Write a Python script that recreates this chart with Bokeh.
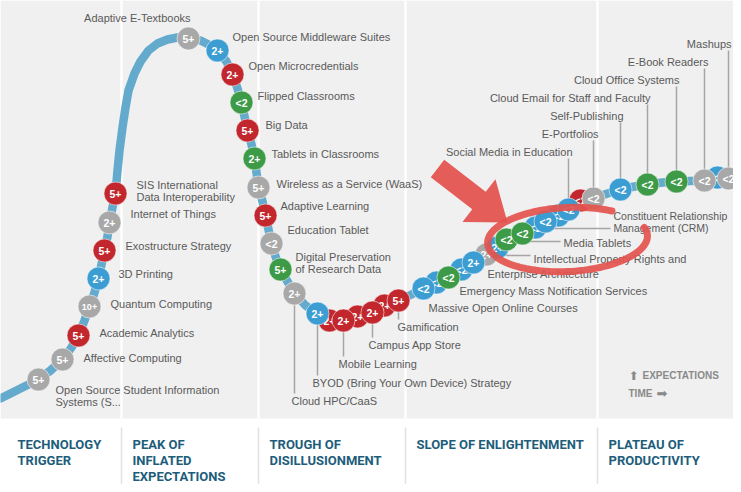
import numpy as np
from bokeh.plotting import figure
from bokeh.models import Range1d
from bokeh.core.properties import value
from bokeh.embed import file_html
from bokeh.resources import INLINE

# ---------------- data (time position, expectation level) -------------
curve_t = [0, 20, 38, 50, 62, 71, 78, 84, 89, 94, 98, 101, 104, 107, 109, 112, 115, 117, 119, 122,
           125, 128, 134, 140, 148, 157, 167, 177, 188, 200, 210, 217, 226, 232, 237, 241, 244, 247,
           251, 254, 256, 258, 262, 265, 268, 271, 275, 280, 287, 294, 305, 317, 329, 343, 357, 372,
           385, 398, 411, 423, 436, 448, 461, 473, 486, 497, 506, 522, 535, 545, 558, 568, 580, 593,
           607, 620, 634, 647, 662, 676, 690, 704, 719, 733, 745]
curve_e = [398, 388, 379, 370, 359, 347, 335, 320, 306, 292, 278, 264, 250, 236, 222, 207, 193, 170,
           150, 127, 107, 90, 73, 61, 50, 43, 39, 37, 37, 40, 45, 50, 61, 74, 88, 102, 116, 130,
           144, 158, 172, 187, 201, 215, 229, 243, 256, 269, 281, 293, 305, 313, 318, 319, 316, 311,
           305, 300, 294, 288, 282, 277, 269, 262, 254, 247, 240, 233, 227, 221, 215, 210, 203, 198,
           193, 189, 186, 184, 182, 181, 180.5, 180, 179, 178, 177]

tech_names = [
    "Open Source Student Information\nSystems (S...", "Affective Computing", "Academic Analytics",
    "Quantum Computing", "3D Printing", "Exostructure Strategy", "Internet of Things",
    "SIS International\nData Interoperability",
    "Adaptive E-Textbooks", "Open Source Middleware Suites", "Open Microcredentials",
    "Flipped Classrooms", "Big Data", "Tablets in Classrooms", "Wireless as a Service (WaaS)",
    "Adaptive Learning", "Education Tablet", "Digital Preservation\nof Research Data",
    "Cloud HPC/CaaS", "", "BYOD (Bring Your Own Device) Strategy", "", "Mobile Learning", "",
    "Campus App Store", "Gamification",
    "", "Massive Open Online Courses", "", "Emergency Mass Notification Services", "",
    "Enterprise Architecture", "", "Intellectual Property Rights and", "", "Media Tablets", "",
    "Constituent Relationship\nManagement (CRM)", "", "Social Media in Education", "E-Portfolios",
    "Self-Publishing", "Cloud Email for Staff and Faculty", "Cloud Office Systems", "",
    "E-Book Readers", "Mashups",
]
tech_t = [38, 62, 78, 89, 98, 104, 109, 115,
          188, 217, 232, 241, 247, 254, 258,
          265, 271, 280, 294, 329, 317, 357, 343, 384, 372, 398,
          436, 423, 461, 448, 486, 473, 497, 506, 535, 522, 558, 545, 580, 568, 593,
          620, 647, 676, 717, 704, 728]
tech_e = [379, 359, 335, 306, 278, 250, 222, 193,
          38, 50, 74, 102, 130, 158, 187,
          215, 243, 269, 293, 320, 313, 316, 320, 305, 312, 300,
          282, 288, 269, 277, 254, 262, 247, 239, 227, 233, 215, 221, 200, 209, 198,
          189, 184, 181, 177, 180, 178]
years = ["5+", "5+", "5+", "10+", "2+", "5+", "2+", "5+",
         "5+", "2+", "2+", "<2", "5+", "2+", "5+",
         "5+", "<2", "5+", "2+", "2+", "2+", "2+", "2+", "2+", "2+", "5+",
         "<2", "<2", "<2", "<2", "2+", "2+", "2+", "<2", "<2", "<2", "<2", "<2", "<2", "<2", "<2",
         "<2", "<2", "<2", "<2", "<2", "<2"]
benefit = ["low", "low", "transformational", "low", "high", "transformational", "low", "transformational",
           "low", "high", "transformational", "moderate", "transformational", "moderate", "low",
           "transformational", "low", "moderate", "low", "transformational", "high", "transformational",
           "transformational", "transformational", "transformational", "transformational",
           "high", "high", "high", "moderate", "low", "high", "high", "moderate", "high", "moderate",
           "high", "high", "transformational", "high", "low",
           "high", "moderate", "moderate", "high", "low", "low"]

phases = ["TECHNOLOGY\nTRIGGER", "PEAK OF\nINFLATED\nEXPECTATIONS", "TROUGH OF\nDISILLUSIONMENT",
          "SLOPE OF ENLIGHTENMENT", "PLATEAU OF\nPRODUCTIVITY"]
phase_start = [6, 121, 258, 405, 597]

# ---------------- layout (label placement relative to each bubble) ----------------
lab_dx = [17, 21, 21, 21, 20, 21, 21, 21,
          2, 15, 16, 16, 18, 17, 18,
          15, 16, 15, -3, 0, -5, 0, -5, 0, -4, -1,
          0, 5, 0, 11, 0, 14, 0, 27, 0, 41, 0, 68, 0, 4, 5,
          3, 3, 3, 0, 4, 3]
lab_dy = [16.5, -2, -3, -3, -5, -5, -9, -2.5,
          -21, -14, -9, -7, -6, -5, -4,
          -10, -14, -6.5, 107, 0, 69, 0, 43, 0, 32, 26,
          0, 19, 0, 13, 0, 11, 0, 19, 0, 9, 0, 0, 0, -58, -65,
          -74, -87, -102, 0, -119, -135]
lab_size = {37: "10.5px"}
lab_right = {8, 39, 40, 41, 42, 43, 45, 46}
leader = {18: "down", 20: "down", 22: "down", 24: "down", 25: "down",
          33: "elbow", 35: "elbow", 37: "elbow",
          39: "up", 40: "up", 41: "up", 42: "up", 43: "up", 45: "up", 46: "up"}
lead_off = {33: -3, 35: -1, 37: 7}

colors = {"transformational": "#c1272d", "high": "#3c9dd2", "moderate": "#3d9b48", "low": "#a8a8a8"}
FONT = value("Liberation Sans")

W, H = 733, 484
p = figure(width=W, height=H, x_range=Range1d(0, W), y_range=Range1d(H, 0),
           output_backend="svg", toolbar_location=None, min_border=0)
p.axis.visible = False
p.grid.visible = False
p.outline_line_color = None
p.background_fill_color = "white"
p.border_fill_color = "white"

# background panels
p.quad(left=[0], right=[745], top=[0], bottom=[418], fill_color="#f0f0f0", line_color=None)
p.segment(x0=phase_start[1:], y0=[0] * 4, x1=phase_start[1:], y1=[418] * 4,
          line_color="white", line_width=2.5)
p.segment(x0=phase_start[1:], y0=[427] * 4, x1=phase_start[1:], y1=[492] * 4,
          line_color="#e2e2e2", line_width=1.5)

# hype curve
p.line(curve_t, curve_e, line_color="#64aacc", line_width=8.5, line_join="round", line_cap="round")

bx = np.array(tech_t, float)
by = np.array(tech_e, float)
lx = bx + np.array(lab_dx, float)
ly = by + np.array(lab_dy, float)
n = len(tech_names)

# leader lines
lxs, lys = [], []
for i, kind in leader.items():
    if kind == "down":
        lxs.append([bx[i], bx[i]]); lys.append([by[i], ly[i] - 7])
    elif kind == "up":
        lxs.append([bx[i], bx[i]]); lys.append([ly[i] + 7, by[i]])
    else:
        yy = ly[i] + lead_off[i]
        lxs.append([bx[i], bx[i], lx[i] - 3]); lys.append([by[i], yy, yy])
p.multi_line(lxs, lys, line_color="#a5a5a5", line_width=1.5)

# bubbles: unnamed (hidden) first, then named ones on top
back = [i for i in range(n) if tech_names[i] == ""]
front = [i for i in range(n) if tech_names[i] != ""]
for grp in (back, front):
    xs = [bx[i] for i in grp]
    ys = [by[i] for i in grp]
    p.circle(xs, ys, radius=11.5, fill_color=[colors[benefit[i]] for i in grp],
             line_color="white", line_alpha=0.55, line_width=1)
    p.text(xs, [y + 0.5 for y in ys], text=[years[i] for i in grp],
           text_font=FONT, text_font_style="bold",
           text_font_size=["9px" if len(years[i]) > 2 else "10.5px" for i in grp],
           text_color="white", text_align="center", text_baseline="middle")

# technology labels
left_i = [i for i in front if i not in lab_right]
right_i = [i for i in front if i in lab_right]
for grp, al in ((left_i, "left"), (right_i, "right")):
    p.text([lx[i] for i in grp], [ly[i] for i in grp], text=[tech_names[i] for i in grp],
           text_font=FONT, text_font_size=[lab_size.get(i, "11px") for i in grp],
           text_color="#5a5a5a", text_align=al, text_baseline="middle", text_line_height=1.0)

# phase headers
p.text([s + 11 for s in phase_start], [436] * len(phases), text=phases,
       text_font=value("Roboto"), text_font_style="bold", text_font_size="13px",
       text_color="#1d5d7b", text_align="left", text_baseline="top", text_line_height=1.07)

# axis legend
p.text([633], [375], text=["⬆"], text_font=value("DejaVu Sans"), text_font_size="12px",
       text_color="#8a8a8a", text_align="center", text_baseline="middle")
p.text([642, 628], [375, 393], text=["EXPECTATIONS", "TIME"], text_font=FONT,
       text_font_style="bold", text_font_size="10px", text_color="#8a8a8a",
       text_align="left", text_baseline="middle")
p.text([656], [393], text=["➡"], text_font=value("DejaVu Sans"), text_font_size="13px",
       text_color="#8a8a8a", text_align="left", text_baseline="middle")

# red highlight annotation (arrow + circled region)
tail = np.array([437.0, 168.0]); tip = np.array([507.0, 222.0])
d = (tip - tail) / np.linalg.norm(tip - tail)
nr = np.array([-d[1], d[0]])
base = tip - 36 * d
pts = [tail + 11 * nr, base + 11 * nr, base + 27 * nr, tip, base - 27 * nr, base - 11 * nr, tail - 11 * nr]
p.patch([q[0] for q in pts], [q[1] for q in pts], fill_color="#e4524e", fill_alpha=0.93, line_color=None)

tt = np.radians(np.linspace(-15, 305, 120))
phi = -0.05
cx, cy, a, b = 567, 239, 80, 32
ex = cx + a * np.cos(tt) * np.cos(phi) - b * np.sin(tt) * np.sin(phi)
ey = cy + a * np.cos(tt) * np.sin(phi) + b * np.sin(tt) * np.cos(phi)
p.line(ex, ey, line_color="#e4524e", line_width=7, line_alpha=0.92, line_cap="round")

open("out.html", "w").write(file_html(p, INLINE))
